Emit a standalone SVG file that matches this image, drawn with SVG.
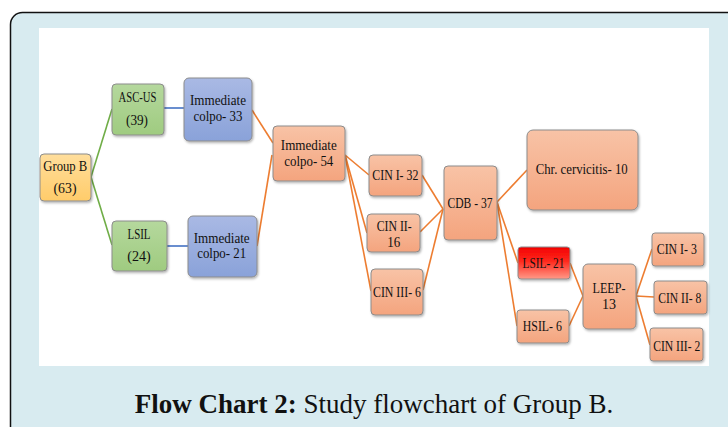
<svg xmlns="http://www.w3.org/2000/svg" width="728" height="427" viewBox="0 0 728 427">
<defs>
<linearGradient id="gOr" x1="0" y1="0" x2="0" y2="1"><stop offset="0" stop-color="#f8c3a6"/><stop offset="1" stop-color="#f4a47e"/></linearGradient>
<linearGradient id="gBl" x1="0" y1="0" x2="0" y2="1"><stop offset="0" stop-color="#a9b9e4"/><stop offset="1" stop-color="#8aa2d9"/></linearGradient>
<linearGradient id="gGr" x1="0" y1="0" x2="0" y2="1"><stop offset="0" stop-color="#b5d89d"/><stop offset="1" stop-color="#9fcb80"/></linearGradient>
<linearGradient id="gYe" x1="0" y1="0" x2="0" y2="1"><stop offset="0" stop-color="#ffde9c"/><stop offset="1" stop-color="#ffcc6a"/></linearGradient>
<linearGradient id="gRd" x1="0" y1="0" x2="0" y2="1"><stop offset="0" stop-color="#f20000"/><stop offset="0.45" stop-color="#ff2a1e"/><stop offset="1" stop-color="#ff9a88"/></linearGradient>
<filter id="sh" x="-10%" y="-10%" width="130%" height="130%"><feDropShadow dx="1" dy="1.5" stdDeviation="0.8" flood-color="#000" flood-opacity="0.3"/></filter>
</defs>
<style>
.n rect{stroke:#8c8c8c;stroke-width:1;filter:url(#sh)}
.n text{font-family:"Liberation Serif","Times New Roman",serif;font-size:15px;fill:#111;text-anchor:middle}
.or{fill:url(#gOr)}
.bl{fill:url(#gBl)}
.gr{fill:url(#gGr)}
.ye{fill:url(#gYe)}
.rd{fill:url(#gRd)}
.c line{stroke-width:1.6;fill:none}
.c .o{stroke:#ed7d31}
.c .g{stroke:#70ad47}
.c .b{stroke:#4472c4}
.cap{font-family:"Liberation Serif","Times New Roman",serif;font-size:27px;fill:#111;text-anchor:middle}
</style>
<rect x="10.5" y="12.5" width="740" height="440" rx="12" fill="#d8ebf0" stroke="#111" stroke-width="1.5"/>
<rect x="39" y="28" width="670" height="338" fill="#ffffff"/>
<g id="connectors" class="c">
<line class="g" x1="91" y1="177" x2="112" y2="109"/>
<line class="g" x1="91" y1="177" x2="112" y2="245"/>
<line class="b" x1="164" y1="108" x2="184" y2="108"/>
<line class="b" x1="167" y1="246" x2="188" y2="246"/>
<line class="o" x1="252" y1="110" x2="273" y2="143"/>
<line class="o" x1="257" y1="246" x2="272" y2="155"/>
<line class="o" x1="345" y1="155" x2="369" y2="175"/>
<line class="o" x1="345" y1="155" x2="367" y2="233"/>
<line class="o" x1="345" y1="155" x2="371" y2="291"/>
<line class="o" x1="422" y1="175" x2="443" y2="209"/>
<line class="o" x1="420" y1="232" x2="443" y2="209"/>
<line class="o" x1="423" y1="290" x2="443" y2="209"/>
<line class="o" x1="497" y1="202" x2="527" y2="170"/>
<line class="o" x1="497" y1="202" x2="518" y2="263"/>
<line class="o" x1="497" y1="202" x2="517" y2="326"/>
<line class="o" x1="570" y1="263" x2="583" y2="296"/>
<line class="o" x1="569" y1="326" x2="583" y2="296"/>
<line class="o" x1="636" y1="296" x2="652" y2="249"/>
<line class="o" x1="636" y1="296" x2="654" y2="297"/>
<line class="o" x1="636" y1="296" x2="650" y2="345"/>
</g>
<g id="groupB" class="n"><rect class="ye" x="40" y="154" width="51" height="47" rx="4"/><text x="65.3" y="171" textLength="44" lengthAdjust="spacingAndGlyphs">Group B</text><text x="65" y="193" textLength="23" lengthAdjust="spacingAndGlyphs">(63)</text></g>
<g id="ascus" class="n"><rect class="gr" x="112" y="84" width="52" height="51" rx="4"/><text x="137.5" y="102" textLength="38" lengthAdjust="spacingAndGlyphs">ASC-US</text><text x="137" y="125" textLength="22" lengthAdjust="spacingAndGlyphs">(39)</text></g>
<g id="lsil" class="n"><rect class="gr" x="112" y="221" width="55" height="50" rx="4"/><text x="139" y="239" textLength="23" lengthAdjust="spacingAndGlyphs">LSIL</text><text x="139" y="261" textLength="23.5" lengthAdjust="spacingAndGlyphs">(24)</text></g>
<g id="imm33" class="n"><rect class="bl" x="184" y="78" width="68" height="63" rx="5"/><text x="218" y="105" textLength="56" lengthAdjust="spacingAndGlyphs">Immediate</text><text x="218" y="121" textLength="49" lengthAdjust="spacingAndGlyphs">colpo- 33</text></g>
<g id="imm21" class="n"><rect class="bl" x="188" y="216" width="69" height="61" rx="5"/><text x="221.7" y="242.5" textLength="56" lengthAdjust="spacingAndGlyphs">Immediate</text><text x="221.7" y="258" textLength="49" lengthAdjust="spacingAndGlyphs">colpo- 21</text></g>
<g id="imm54" class="n"><rect class="or" x="273" y="126" width="72" height="55" rx="4"/><text x="308.8" y="150" textLength="56" lengthAdjust="spacingAndGlyphs">Immediate</text><text x="308.8" y="166" textLength="49" lengthAdjust="spacingAndGlyphs">colpo- 54</text></g>
<g id="cin1_32" class="n"><rect class="or" x="369" y="155" width="53" height="41" rx="4"/><text x="395.3" y="180" textLength="46" lengthAdjust="spacingAndGlyphs">CIN I- 32</text></g>
<g id="cin2_16" class="n"><rect class="or" x="367" y="214" width="53" height="38" rx="4"/><text x="394.2" y="231" textLength="35" lengthAdjust="spacingAndGlyphs">CIN II-</text><text x="393.7" y="246.5" textLength="13" lengthAdjust="spacingAndGlyphs">16</text></g>
<g id="cin3_6" class="n"><rect class="or" x="371" y="269" width="52" height="46" rx="4"/><text x="397" y="296.5" textLength="48" lengthAdjust="spacingAndGlyphs">CIN III- 6</text></g>
<g id="cdb37" class="n"><rect class="or" x="444" y="166" width="53" height="74" rx="4"/><text x="470" y="208" textLength="45" lengthAdjust="spacingAndGlyphs">CDB - 37</text></g>
<g id="chr" class="n"><rect class="or" x="527" y="130" width="111" height="80" rx="6"/><text x="581.7" y="174" textLength="92" lengthAdjust="spacingAndGlyphs">Chr. cervicitis- 10</text></g>
<g id="lsil21" class="n"><rect class="rd" x="518" y="247" width="52" height="32" rx="3"/><text x="543.5" y="267.5" textLength="42" lengthAdjust="spacingAndGlyphs">LSIL- 21</text></g>
<g id="hsil6" class="n"><rect class="or" x="517" y="310" width="52" height="33" rx="3"/><text x="542.3" y="331" textLength="39" lengthAdjust="spacingAndGlyphs">HSIL- 6</text></g>
<g id="leep13" class="n"><rect class="or" x="583" y="264" width="53" height="65" rx="5"/><text x="609" y="293" textLength="33" lengthAdjust="spacingAndGlyphs">LEEP-</text><text x="609" y="309" textLength="14" lengthAdjust="spacingAndGlyphs">13</text></g>
<g id="cin1_3" class="n"><rect class="or" x="652" y="233" width="52" height="33" rx="3"/><text x="676.8" y="254" textLength="40" lengthAdjust="spacingAndGlyphs">CIN I- 3</text></g>
<g id="cin2_8" class="n"><rect class="or" x="654" y="281" width="53" height="33" rx="3"/><text x="679.8" y="303" textLength="43" lengthAdjust="spacingAndGlyphs">CIN II- 8</text></g>
<g id="cin3_2" class="n"><rect class="or" x="650" y="328" width="53" height="33" rx="3"/><text x="676.7" y="351" textLength="47" lengthAdjust="spacingAndGlyphs">CIN III- 2</text></g>
<text class="cap" x="374" y="413"><tspan font-weight="bold">Flow Chart 2:</tspan> Study flowchart of Group B.</text>
</svg>
